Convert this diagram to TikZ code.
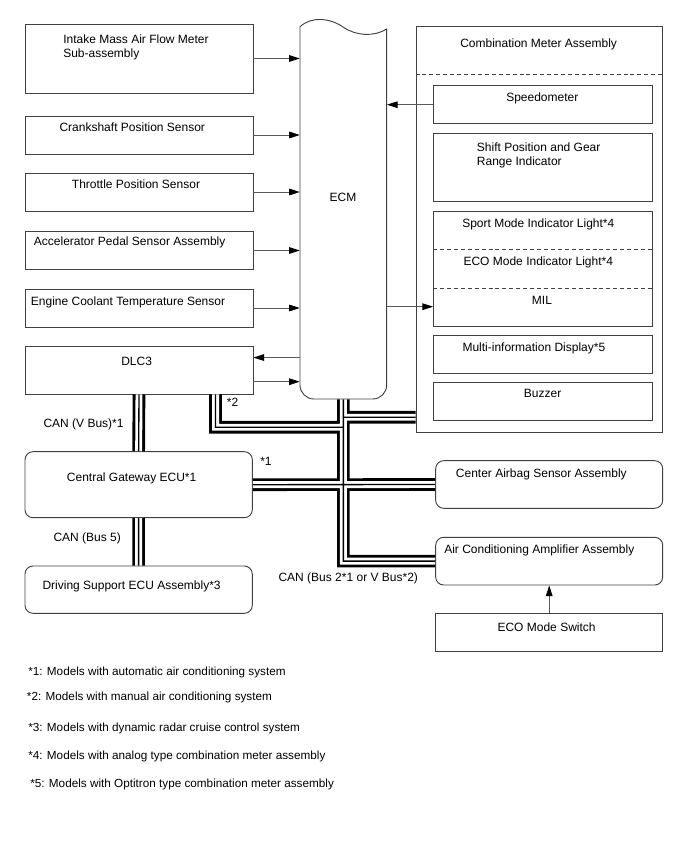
\documentclass[tikz,border=0pt]{standalone}
\usepackage{fontspec}
\setmainfont{Liberation Sans}
\usetikzlibrary{arrows.meta,fit,positioning}
\definecolor{frame}{rgb}{.25,.25,.25}
\definecolor{wire}{rgb}{.35,.35,.35}
% CAN lines, drawn three times so that the joints merge
\def\Bus{(R6.south) -- (R15.north)
	(R15.south) -- (R16.north)
	([xshift=57.4pt]R6.south) |- ([yshift=-21pt]ECM.south)
	(ECM.south) |- (R18.west)
	(R15.east) -- (R17.west)
	([yshift=-13.5pt]ECM.south) -- ([yshift=-13.5pt]ECM.south -| R7.west)}

\begin{document}
\begin{tikzpicture}[x=0.75pt,y=-0.75pt,% one unit = one pixel of the sheet
			every node/.style={
				inner sep=0pt,
				font=\fontsize{9}{10.5}\selectfont
			},
			box/.style={draw=frame,line width=0.7pt},
			rbox/.style={box,rounded corners=6pt},
			lbl/.style={anchor=north west,align=left},
			note/.style={lbl,font=\fontsize{8.8}{10.5}\selectfont},
			>={Triangle[length=8pt,width=5pt,color=black]},
			every edge/.style={draw=wire,line width=0.7pt}
		]
		\useasboundingbox (0,0) rectangle (688,852);
		% sensors on the left
		\node[box,fit={(25,24) (253,93)}](R1){};
		\node[box,fit={(25,116) (253,154)}](R2){};
		\node[box,fit={(25,173) (253,211)}](R3){};
		\node[box,fit={(25,231.7) (253,269.3)}](R4){};
		\node[box,fit={(25,289) (253,327)}](R5){};
		\node[box,fit={(25,346.7) (253,394)}](R6){};
		% ECM
		\node[fit={(300,29) (386.7,399)}](ECM){};
		\draw[frame,line width=0.7pt] (300,26.7) .. controls (312,16) and (330,18) .. (343,27)
			.. controls (356,36) and (374,37) .. (386.7,29)
			[rounded corners=10.5pt] -- (386.7,399) -- (300,399) -- (300,26.7);
		% combination meter
		\node[box,fit={(416,26) (662.7,432)}](R7){};
		\draw[frame,dash pattern=on 3pt off 2.2pt] (R7.west |- 0,74) -- (R7.east |- 0,74);
		\node[box,fit={(433.3,85.7) (652.3,123.7)}](R8){};
		\node[box,fit={(433.3,133.3) (652.3,201.7)}](R9){};
		\node[fit={(433.3,211.7) (652.3,249.3)}](R10){};
		\node[fit={(433.3,249.3) (652.3,287.7)}](R11){};
		\node[fit={(433.3,287.7) (652.3,325.7)}](R12){};
		\draw[box] (R10.north west) rectangle (R12.south east);
		\draw[frame,dash pattern=on 3pt off 2.2pt] (R10.south west) -- (R10.south east)
			(R11.south west) -- (R11.south east);
		\node[box,fit={(433.3,335.3) (652.3,373.3)}](R13){};
		\node[box,fit={(433.3,382.7) (652.3,420.7)}](R14){};
		% network side
		\node[rbox,fit={(25,451.7) (252.3,517.7)}](R15){};
		\node[rbox,fit={(25,566) (252.3,613.3)}](R16){};
		\node[rbox,fit={(435.7,460.7) (662.7,508.3)}](R17){};
		\node[rbox,fit={(435.7,537.3) (662.7,585)}](R18){};
		\node[box,fit={(435.7,613.3) (662.7,651.7)}](R19){};
		\foreach \lw/\col in {9.5pt/black,5.2pt/white,1pt/black}
			\draw[\col,line width=\lw] \Bus;
		% texts
		\node[lbl](T1) at (63,34.9) {Intake Mass Air Flow Meter\\Sub-assembly};
		\node[lbl](T2) at (59.3,122.6) {Crankshaft Position Sensor};
		\node[lbl](T3) at (71.7,179.6) {Throttle Position Sensor};
		\node[lbl](T4) at (33.7,236.9) {Accelerator Pedal Sensor Assembly};
		\node[lbl](T5) at (30.7,296.3) {Engine Coolant Temperature Sensor};
		\node[lbl](T6) at (121,357.3) {DLC3};
		\node(T7) at (343,197) {ECM};
		\node[lbl](T8) at (460,38.6) {Combination Meter Assembly};
		\node[lbl](T9) at (506,92.3) {Speedometer};
		\node[lbl](T10) at (476.7,142.3) {Shift Position and Gear\\Range Indicator};
		\node[lbl](T11) at (462,218.9) {Sport Mode Indicator Light*4};
		\node[lbl](T12) at (463.3,256.3) {ECO Mode Indicator Light*4};
		\node[lbl](T13) at (531.7,295.6) {MIL};
		\node[lbl](T14) at (462.3,342.3) {Multi-information Display*5};
		\node[lbl](T15) at (523.7,388.9) {Buzzer};
		\node[lbl](T16) at (66.7,472.3) {Central Gateway ECU*1};
		\node[lbl](T17) at (42.3,580.6) {Driving Support ECU Assembly*3};
		\node[lbl](T18) at (455.7,468.9) {Center Airbag Sensor Assembly};
		\node[lbl](T19) at (444,544.6) {Air Conditioning Amplifier Assembly};
		\node[lbl](T20) at (497.3,622.3) {ECO Mode Switch};
		\node[lbl](T21) at (43.3,418.3) {CAN (V Bus)*1};
		\node[lbl](T22) at (53.3,532.3) {CAN (Bus 5)};
		\node[lbl](T23) at (226.7,398.3) {*2};
		\node[lbl](T24) at (260,457.3) {*1};
		\node[lbl](T25) at (278.3,572.3) {CAN (Bus 2*1 or V Bus*2)};
		% notes
		\node[note](N1) at (28,666.6) {*1: Models with automatic air conditioning system};
		\node[note](N2) at (26.7,691.6) {*2: Models with manual air conditioning system};
		\node[note](N3) at (28,722.6) {*3: Models with dynamic radar cruise control system};
		\node[note](N4) at (28,750.6) {*4: Models with analog type combination meter assembly};
		\node[note](N5) at (30,778.6) {*5: Models with Optitron type combination meter assembly};
		% signals
		\path[->]
		(R1.east)edge (R1.east -| ECM.west)
		(R2.east)edge (R2.east -| ECM.west)
		(R3.east)edge (R3.east -| ECM.west)
		(R4.east)edge (R4.east -| ECM.west)
		(R5.east)edge (R5.east -| ECM.west)
		([yshift=9.6pt]R6.east -| ECM.west)edge ([yshift=9.6pt]R6.east)
		([yshift=-8.5pt]R6.east)edge ([yshift=-8.5pt]R6.east -| ECM.west)
		(R8.west)edge (R8.west -| ECM.east)
		(ECM.east |- R12.west)edge (R12.west)
		(R19.north)edge (R18.south)
		;
	\end{tikzpicture}
\end{document}
